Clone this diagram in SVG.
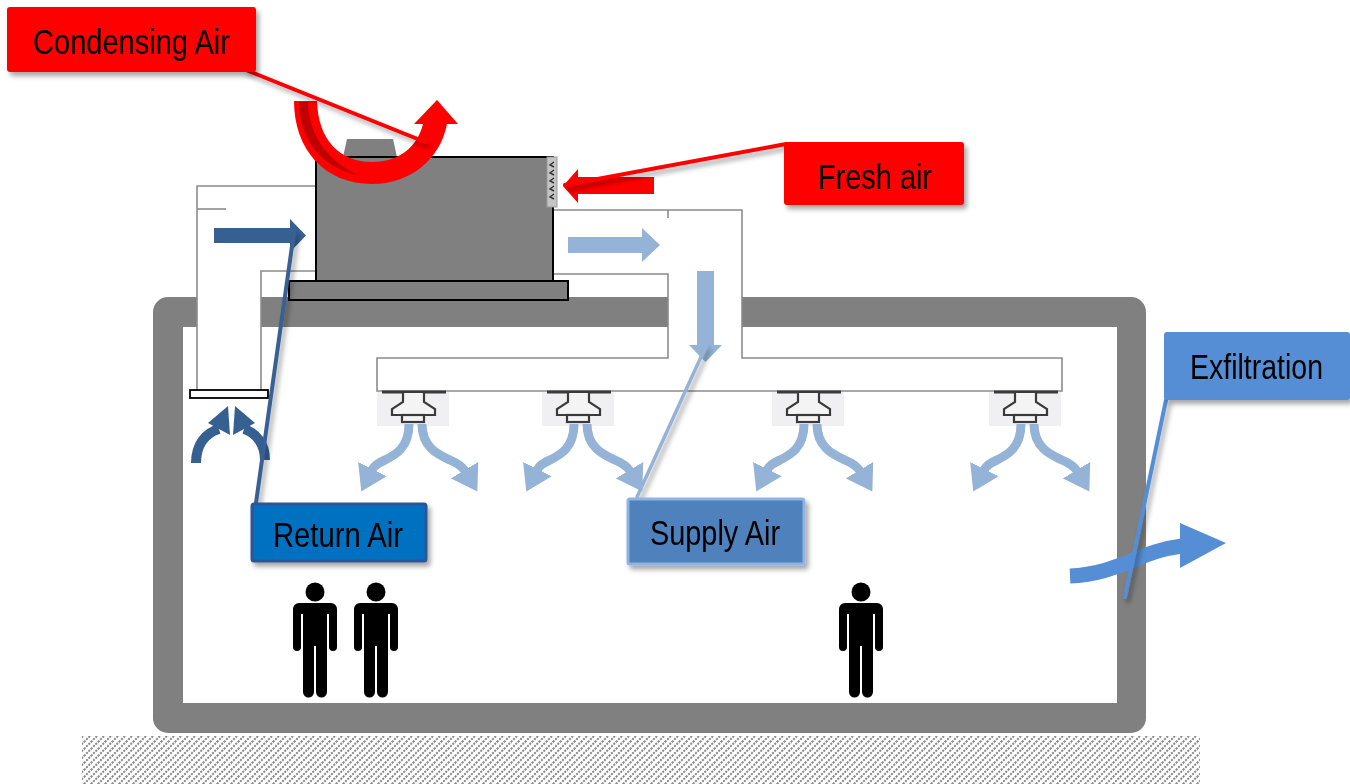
<svg xmlns="http://www.w3.org/2000/svg" xmlns:xlink="http://www.w3.org/1999/xlink" width="1350" height="784" viewBox="0 0 1350 784">
  <style>
    .duct-line { fill: none; stroke: #8c8c8c; stroke-width: 1.6; }
    .duct-fill { fill: #ffffff; stroke: none; }
    .label-text { font-family: "Liberation Sans Narrow", "Liberation Sans", Arial, sans-serif; font-size: 35px; fill: #000000; }
    .diff-bg { fill: #f0f0f2; }
    .diff-body { fill: #f4f4f4; stroke: #3a3a3a; stroke-width: 2.2; stroke-linejoin: miter; }
    .diff-plate { stroke: #3a3a3a; stroke-width: 3; }
    .supply-stream { fill: none; stroke: #95b3d7; stroke-width: 9; marker-end: url(#supply-head); }
    .return-stream { fill: none; stroke: #376092; stroke-width: 10; }
    .person { fill: #000000; }
  </style>
  <defs>
    <pattern id="ground-hatch" patternUnits="userSpaceOnUse" width="7" height="7">
      <path d="M-1,1 L1,-1 M0,7 L7,0 M6,8 L8,6" stroke="#8a8a8a" stroke-width="2" stroke-dasharray="2 1.2"/>
    </pattern>
    <filter id="shadow" x="-20%" y="-20%" width="140%" height="160%">
      <feDropShadow dx="3" dy="4" stdDeviation="2.5" flood-color="#000000" flood-opacity="0.35"/>
    </filter>
    <marker id="supply-head" markerUnits="userSpaceOnUse" viewBox="0 0 25 32" refX="1" refY="16" markerWidth="25" markerHeight="32" orient="auto">
      <path d="M0,0 L25,16 L0,32 Z" fill="#95b3d7"/>
    </marker>
    <g id="person-shape">
      <circle cx="0" cy="9" r="9.5"/>
      <path d="M-16,20 h32 a6,6 0 0 1 6,6 v38 a4,4 0 0 1 -8,0 v-33 h-2 v78 a5.5,5.5 0 0 1 -11,0 v-46 h-2 v46 a5.5,5.5 0 0 1 -11,0 v-78 h-2 v33 a4,4 0 0 1 -8,0 v-38 a6,6 0 0 1 6,-6 z"/>
    </g>
    <g id="diffuser-shape">
      <rect class="diff-bg" x="-36" y="392" width="72" height="34"/>
      <line class="diff-plate" x1="-31" y1="392" x2="33" y2="392"/>
      <path class="diff-body" d="M-10,393 V402 L-21,409 V415 H22 V409 L11,402 V393"/>
      <rect class="diff-body" x="-11" y="415" width="22" height="7"/>
      <path class="supply-stream" d="M-4,424 C-4,448 -18,455 -28,460 C-35,463 -39,466 -41,470"/>
      <path class="supply-stream" d="M9,424 C9,448 26,455 37,460 C44,463 49,466 52,471"/>
    </g>
  </defs>

  <!-- ground -->
  <g id="ground">
    <rect x="82" y="736" width="1118" height="48" fill="url(#ground-hatch)"/>
  </g>

  <!-- building envelope -->
  <g id="building">
    <path fill="#808080" fill-rule="evenodd" d="M168,297 H1131 A15,15 0 0 1 1146,312 V718 A15,15 0 0 1 1131,733 H168 A15,15 0 0 1 153,718 V312 A15,15 0 0 1 168,297 Z M183,327 V703 H1117 V327 Z"/>
  </g>

  <!-- return duct -->
  <g id="return-duct">
    <path class="duct-fill" d="M197,186 H316 V271 H261 V390 H197 Z"/>
    <path class="duct-line" d="M316,186 H197 V390"/>
    <path class="duct-line" d="M316,271 H261 V390"/>
    <path class="duct-line" d="M197,209 H226"/>
    <rect x="190" y="390" width="78" height="8" fill="#ffffff" stroke="#000000" stroke-width="1.8"/>
  </g>

  <!-- supply duct -->
  <g id="supply-duct">
    <path class="duct-fill" d="M553,210 H742 V358 H1062 V391 H377 V358 H668 V274 H553 Z"/>
    <path class="duct-line" d="M553,210 H742 V358 H1062 V391 H377 V358 H668 V274 H553"/>
    <path class="duct-line" d="M668,210 V218"/>
  </g>

  <!-- rooftop unit -->
  <g id="rooftop-unit">
    <path d="M343,157 L347,139 H393 L397,157 Z" fill="#808080"/>
    <rect x="316" y="157" width="237" height="124" fill="#808080" stroke="#000000" stroke-width="2"/>
    <rect x="289" y="281" width="279" height="19" fill="#808080" stroke="#000000" stroke-width="2"/>
    <g id="fresh-air-grille">
      <rect x="547" y="157" width="10" height="50" fill="#c4c4c4" stroke="#9a9a9a" stroke-width="1"/>
      <path d="M554,162 L550,165 L554,167 M554,170 L550,173 L554,175 M554,178 L550,181 L554,183 M554,186 L550,189 L554,191 M554,194 L550,197 L554,199" fill="none" stroke="#333333" stroke-width="1.4"/>
    </g>
  </g>

  <!-- diffusers with supply streams -->
  <g id="diffuser-1" transform="translate(413,0)"><use xlink:href="#diffuser-shape"/></g>
  <g id="diffuser-2" transform="translate(578,0)"><use xlink:href="#diffuser-shape"/></g>
  <g id="diffuser-3" transform="translate(808,0)"><use xlink:href="#diffuser-shape"/></g>
  <g id="diffuser-4" transform="translate(1025,0)"><use xlink:href="#diffuser-shape"/></g>

  <!-- airflow arrows -->
  <g id="airflow">
    <!-- return air into unit -->
    <path d="M214,228 H290 V219 L306,235.5 L290,252 V243 H214 Z" fill="#376092"/>
    <!-- return air rising to grille -->
    <path class="return-stream" d="M196,463 C196,445 205,433 219,429"/>
    <path d="M208,423 L230,435 L228,406 Z" fill="#376092"/>
    <path class="return-stream" d="M265,460 C265,445 257,433 244,429"/>
    <path d="M255,423 L233,435 L235,406 Z" fill="#376092"/>
    <!-- supply air out of unit -->
    <path d="M568,237 H642 V228 L660,245 L642,262 V253 H568 Z" fill="#95b3d7"/>
    <path d="M697,271 H714 V345 H722 L705.5,362 L689,345 H697 Z" fill="#95b3d7"/>
    <!-- fresh air intake -->
    <path d="M563,186 L578,169 V177 H654 V194 H578 V203 Z" fill="#ff0000"/>
    <!-- condensing air loop -->
    <path d="M294,101 C294,150 325,184 372,184 C410,184 440,160 447,124 L458,124 L437,100 L414,124 L423,124 C417,148 398,162 372,162 C340,162 318,140 317,101 Z" fill="#ff0000"/>
    <path d="M299,102 L308,102 C309,138 330,162 358,175 C326,169 300,145 299,102 Z" fill="#c00000"/>
    <!-- exfiltration through wall -->
    <path d="M1070,576 C1118,574 1140,551 1182,546" fill="none" stroke="#558ed5" stroke-width="15"/>
    <path d="M1180,523 L1226,543 L1180,568 Z" fill="#558ed5"/>
  </g>

  <!-- occupants -->
  <g id="person-1" class="person" transform="translate(315,583)"><use xlink:href="#person-shape"/></g>
  <g id="person-2" class="person" transform="translate(376,583)"><use xlink:href="#person-shape"/></g>
  <g id="person-3" class="person" transform="translate(861,583)"><use xlink:href="#person-shape"/></g>

  <!-- label leader lines -->
  <g id="connectors" filter="url(#shadow)" stroke-linecap="round">
    <line x1="246" y1="70" x2="425" y2="142" stroke="#ff0000" stroke-width="4"/>
    <line x1="786" y1="144" x2="565" y2="185" stroke="#ff0000" stroke-width="4"/>
    <line x1="256" y1="503" x2="294" y2="232" stroke="#376092" stroke-width="4"/>
    <line x1="637" y1="497" x2="706" y2="346" stroke="#95b3d7" stroke-width="3.5"/>
    <line x1="1166" y1="400" x2="1125" y2="597" stroke="#558ed5" stroke-width="4"/>
  </g>

  <!-- labels -->
  <g id="label-condensing-air" filter="url(#shadow)">
    <rect x="7" y="7" width="249" height="65" rx="3" fill="#ff0000"/>
    <text class="label-text" x="33" y="54" textLength="197" lengthAdjust="spacingAndGlyphs">Condensing Air</text>
  </g>
  <g id="label-fresh-air" filter="url(#shadow)">
    <rect x="784" y="142" width="180" height="63" rx="3" fill="#ff0000"/>
    <text class="label-text" x="818" y="189" textLength="114" lengthAdjust="spacingAndGlyphs">Fresh air</text>
  </g>
  <g id="label-return-air" filter="url(#shadow)">
    <rect x="252" y="504" width="174" height="57" rx="2" fill="#0070c0" stroke="#2f5597" stroke-width="3"/>
    <text class="label-text" x="273" y="547" textLength="130" lengthAdjust="spacingAndGlyphs">Return Air</text>
  </g>
  <g id="label-supply-air" filter="url(#shadow)">
    <rect x="628" y="499" width="176" height="65" rx="2" fill="#4f81bd" stroke="#8eb4e3" stroke-width="3"/>
    <text class="label-text" x="650" y="545" textLength="130" lengthAdjust="spacingAndGlyphs">Supply Air</text>
  </g>
  <g id="label-exfiltration" filter="url(#shadow)">
    <rect x="1164" y="332" width="186" height="68" rx="3" fill="#558ed5"/>
    <text class="label-text" x="1190" y="379" textLength="133" lengthAdjust="spacingAndGlyphs">Exfiltration</text>
  </g>
</svg>
